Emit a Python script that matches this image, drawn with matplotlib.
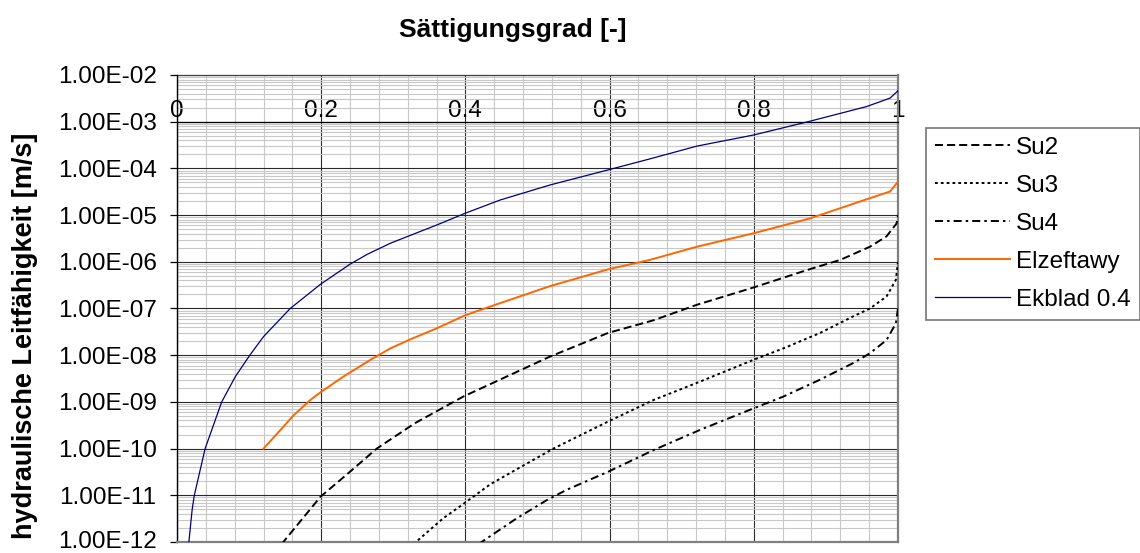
import matplotlib
matplotlib.use("Agg")
import matplotlib.pyplot as plt
import matplotlib.transforms as mtransforms
from matplotlib.ticker import FixedLocator, MultipleLocator, LogLocator, FuncFormatter, NullFormatter

plt.rcParams["font.family"] = ["Liberation Sans", "DejaVu Sans"]
plt.rcParams["lines.scale_dashes"] = False

# Saturation degree [-] and hydraulic conductivity [m/s] per model
sat_ekblad = [0.015, 0.021, 0.024, 0.039, 0.062, 0.081, 0.101, 0.120, 0.157, 0.199,
              0.240, 0.264, 0.296, 0.324, 0.361, 0.400, 0.448, 0.517, 0.598, 0.656,
              0.721, 0.800, 0.873, 0.956, 0.989, 1.000]
k_ekblad = [6.0e-13, 4.9e-12, 1.0e-11, 1.0e-10, 1.0e-9, 3.5e-9, 1.0e-8, 2.5e-8, 1.0e-7, 3.3e-7,
            8.9e-7, 1.45e-6, 2.5e-6, 3.7e-6, 6.2e-6, 1.1e-5, 2.1e-5, 4.4e-5, 9.3e-5, 1.6e-4,
            3.0e-4, 5.2e-4, 9.8e-4, 2.1e-3, 3.2e-3, 4.6e-3]

sat_elzeftawy = [0.120, 0.139, 0.162, 0.185, 0.199, 0.231, 0.268, 0.296, 0.324, 0.361,
                 0.400, 0.448, 0.517, 0.598, 0.656, 0.721, 0.800, 0.878, 0.961, 0.989, 1.000]
k_elzeftawy = [1.0e-10, 2.1e-10, 5.2e-10, 1.1e-9, 1.6e-9, 3.5e-9, 7.9e-9, 1.4e-8, 2.2e-8, 3.8e-8,
               7.2e-8, 1.3e-7, 3.0e-7, 6.9e-7, 1.1e-6, 2.1e-6, 4.1e-6, 8.5e-6, 2.3e-5, 3.2e-5, 5.2e-5]

sat_su2 = [0.145, 0.199, 0.240, 0.277, 0.330, 0.397, 0.448, 0.517, 0.598, 0.661,
           0.721, 0.799, 0.873, 0.920, 0.961, 0.984, 0.998, 1.000]
k_su2 = [9.0e-13, 9.3e-12, 3.2e-11, 1.0e-10, 3.5e-10, 1.3e-9, 3.0e-9, 9.3e-9, 3.0e-8, 5.6e-8,
         1.2e-7, 2.8e-7, 6.6e-7, 1.1e-6, 2.1e-6, 3.5e-6, 6.6e-6, 1.0e-5]

sat_su3 = [0.328, 0.369, 0.397, 0.434, 0.471, 0.522, 0.598, 0.661, 0.725, 0.799,
           0.841, 0.892, 0.938, 0.961, 0.984, 0.997, 1.000]
k_su3 = [9.0e-13, 3.2e-12, 6.5e-12, 1.7e-11, 3.6e-11, 1.0e-10, 3.8e-10, 1.1e-9, 2.7e-9, 7.9e-9,
         1.4e-8, 3.0e-8, 6.8e-8, 1.0e-7, 1.8e-7, 4.1e-7, 1.0e-6]

sat_su4 = [0.418, 0.471, 0.513, 0.540, 0.598, 0.661, 0.725, 0.799, 0.841, 0.892,
           0.938, 0.961, 0.984, 0.997, 1.000]
k_su4 = [9.0e-13, 3.2e-12, 7.9e-12, 1.3e-11, 3.2e-11, 9.3e-11, 2.5e-10, 7.2e-10, 1.3e-9, 3.0e-9,
         6.8e-9, 1.1e-8, 2.1e-8, 4.8e-8, 1.0e-7]

x_ticks = [0, 0.2, 0.4, 0.6, 0.8, 1.0]
x_tick_labels = ["0", "0.2", "0.4", "0.6", "0.8", "1"]
y_ticks = [1e-12, 1e-11, 1e-10, 1e-9, 1e-8, 1e-7, 1e-6, 1e-5, 1e-4, 1e-3, 1e-2]

W, H = 1140, 553
fig = plt.figure(figsize=(W / 100, H / 100), dpi=100)
ax = fig.add_axes([177 / W, 1 - 542 / H, (898 - 177) / W, (542 - 75) / H])

ax.set_xscale("linear")
ax.set_yscale("log")
ax.set_xlim(0, 1)
ax.set_ylim(1e-12, 1e-2)

# grid
ax.xaxis.set_major_locator(FixedLocator(x_ticks))
ax.xaxis.set_minor_locator(MultipleLocator(0.04))
ax.yaxis.set_major_locator(FixedLocator(y_ticks))
ax.yaxis.set_minor_locator(LogLocator(base=10, subs=range(2, 10), numticks=50))
ax.yaxis.set_minor_formatter(NullFormatter())
ax.grid(which="minor", color="#c8c8c8", linewidth=0.8, zorder=0)
ax.grid(which="major", color="#2a2a2a", linewidth=0.8, zorder=0.5)
ax.set_axisbelow(True)
ax.axhline(1e-2, color="#404040", linewidth=0.9, clip_on=False, zorder=1)

# x axis crosses the value axis at 1E-03, labels sitting on top of it
ax.spines["top"].set_position(("data", 1e-3))
ax.spines["top"].set_color("black")
ax.spines["top"].set_linewidth(0.9)
ax.xaxis.set_ticks_position("top")
ax.xaxis.set_label_position("top")
ax.set_xticklabels(x_tick_labels)
ax.tick_params(axis="x", which="both", length=0, pad=0, labelsize=17.5, colors="black")

ax.spines["left"].set_color("black")
ax.spines["left"].set_linewidth(1.0)
for s in ("bottom", "right"):
    ax.spines[s].set_color("#808080")
    ax.spines[s].set_linewidth(1.6)

ax.yaxis.set_major_formatter(FuncFormatter(lambda v, _: f"{v:.2E}"))
ax.tick_params(axis="y", which="major", direction="out", length=5.2, width=0.9,
               pad=9.5, labelsize=17.5, colors="black")
ax.tick_params(axis="y", which="minor", length=0)

# keep the lowest value label inside the figure
fig.canvas.draw()
lowest = ax.yaxis.get_major_ticks()[0].label1
lowest.set_transform(lowest.get_transform() +
                     mtransforms.ScaledTranslation(0, 3 / 100, fig.dpi_scale_trans))

# curves
ax.plot(sat_su2, k_su2, color="black", linewidth=1.4, dashes=(5.8, 2.9), label="Su2", zorder=3)
ax.plot(sat_su3, k_su3, color="black", linewidth=1.4, dashes=(2.0, 2.2), label="Su3", zorder=3)
ax.plot(sat_su4, k_su4, color="black", linewidth=1.4, dashes=(5.8, 2.9, 1.8, 2.9), label="Su4", zorder=3)
ax.plot(sat_elzeftawy, k_elzeftawy, color="#ff6600", linewidth=1.4, label="Elzeftawy", zorder=3)
ax.plot(sat_ekblad, k_ekblad, color="#000080", linewidth=0.9, label="Ekblad 0.4", zorder=3)

leg = ax.legend(loc="upper left", bbox_to_anchor=(926 / W, 1 - 128 / H),
                bbox_transform=fig.transFigure, fontsize=17.5, frameon=True,
                fancybox=False, framealpha=1, edgecolor="#808080",
                handlelength=3.1, handletextpad=0.25, labelspacing=0.66,
                borderpad=0.36, borderaxespad=0)
leg.get_frame().set_linewidth(1.3)

fig.text(513 / W, 1 - 30 / H, "Sättigungsgrad [-]", fontsize=19, fontweight="bold",
         ha="center", va="center")
fig.text(25 / W, 1 - 336 / H, "hydraulische Leitfähigkeit [m/s]", fontsize=19.5,
         fontweight="bold", rotation=90, ha="center", va="center")

fig.savefig("out.png", dpi=100)
